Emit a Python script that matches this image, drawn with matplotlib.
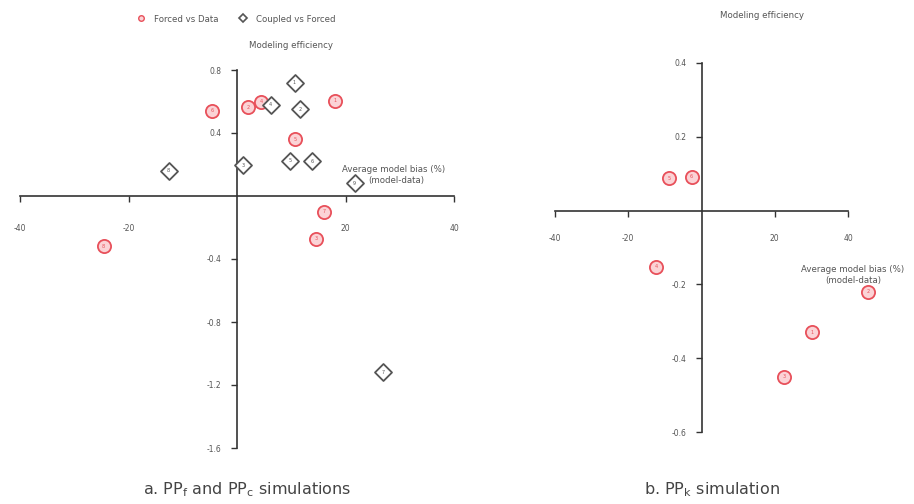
import matplotlib
matplotlib.use("Agg")
import matplotlib.pyplot as plt
from matplotlib.lines import Line2D

# ---- data ----
# Panel a: PPf / PPc simulations
forced_bias = [-4.6, 2.0, 4.4, 18.0, 10.7, 16.1, 14.6, -24.6]
forced_eff = [0.54, 0.565, 0.60, 0.605, 0.36, -0.10, -0.27, -0.32]
forced_lbl = ["6", "2", "4", "1", "5", "7", "3", "8"]

coupled_bias = [10.6, 6.2, 11.7, -12.6, 1.1, 9.8, 13.8, 21.7, 27.0]
coupled_eff = [0.72, 0.58, 0.55, 0.16, 0.195, 0.225, 0.22, 0.08, -1.12]
coupled_lbl = ["1", "4", "2", "8", "3", "5", "6", "9", "7"]

# Panel b: PPk simulation
k_bias = [-8.8, -2.7, -12.3, 45.5, 30.1, 22.5]
k_eff = [0.087, 0.092, -0.152, -0.22, -0.33, -0.45]
k_lbl = ["5", "6", "4", "2", "1", "3"]

a_xticks = [-40, -20, 20, 40]
a_yticks = [0.8, 0.4, -0.4, -0.8, -1.2, -1.6]
b_xticks = [-40, -20, 20, 40]
b_yticks = [0.4, 0.2, -0.2, -0.4, -0.6]

W, H = 914, 504
fig = plt.figure(figsize=(W / 100, H / 100), dpi=100)
plt.rcParams['font.family'] = ['DejaVu Sans']

TXT = '#555555'
RED = '#e8505a'
REDFILL = '#fbd3d6'
GREY = '#555555'


def make_axes(px0, px1, py_top, py_bot, x0pix, xscale, y0pix, yscale):
    ax = fig.add_axes([px0 / W, 1 - py_bot / H, (px1 - px0) / W, (py_bot - py_top) / H])
    ax.set_xlim((px0 - x0pix) / xscale, (px1 - x0pix) / xscale)
    ax.set_ylim((y0pix - py_bot) / yscale, (y0pix - py_top) / yscale)
    ax.patch.set_alpha(0)
    for s in ['top', 'right']:
        ax.spines[s].set_visible(False)
    ax.spines['left'].set_position(('data', 0))
    ax.spines['bottom'].set_position(('data', 0))
    for s in ['left', 'bottom']:
        ax.spines[s].set_color('#333333')
        ax.spines[s].set_linewidth(1.2)
    return ax


def style_ticks(ax, xt, yt, xpad, ypad):
    ax.set_xticks(xt)
    ax.set_yticks(yt)
    ax.set_xticklabels([f"{v:g}" for v in xt])
    ax.set_yticklabels([f"{v:g}" for v in yt])
    ax.tick_params(axis='x', direction='out', length=4, width=1, colors='#333333',
                   labelcolor=TXT, labelsize=5.5, pad=xpad)
    ax.tick_params(axis='y', direction='out', length=4, width=1, colors='#333333',
                   labelcolor=TXT, labelsize=5.5, pad=ypad)
    ax.spines['bottom'].set_bounds(xt[0], xt[-1])
    ax.spines['left'].set_bounds(min(yt), max(yt))


def draw_circles(ax, xs, ys, labels):
    ax.scatter(xs, ys, s=90, marker='o', facecolor=REDFILL, edgecolor=RED,
               linewidths=1.3, zorder=3, clip_on=False)
    for x, y, t in zip(xs, ys, labels):
        ax.text(x, y, t, fontsize=3.5, color=RED, ha='center', va='center', zorder=4)


def draw_diamonds(ax, xs, ys, labels):
    ax.scatter(xs, ys, s=75, marker='D', facecolor='white', edgecolor=GREY,
               linewidths=1.3, zorder=3, clip_on=False)
    for x, y, t in zip(xs, ys, labels):
        ax.text(x, y, t, fontsize=3.5, color=GREY, ha='center', va='center', zorder=4)


# Panel a
axa = make_axes(10, 465, 40, 460, 237, 5.425, 196, 157.5)
style_ticks(axa, a_xticks, a_yticks, xpad=16, ypad=7)
draw_circles(axa, forced_bias, forced_eff, forced_lbl)
draw_diamonds(axa, coupled_bias, coupled_eff, coupled_lbl)

# Panel b
axb = make_axes(520, 905, 30, 460, 701.5, 3.6625, 210.6, 369)
style_ticks(axb, b_xticks, b_yticks, xpad=13, ypad=7)
draw_circles(axb, k_bias, k_eff, k_lbl)


def ftext(px, py, s, **kw):
    fig.text(px / W, 1 - py / H, s, **kw)


ftext(291, 46, "Modeling efficiency", fontsize=6.2, color=TXT, ha='center', va='center')
ftext(762, 16, "Modeling efficiency", fontsize=6.2, color=TXT, ha='center', va='center')
ftext(394, 170, "Average model bias (%)", fontsize=6.2, color=TXT, ha='center', va='center')
ftext(396, 181, "(model-data)", fontsize=6.2, color=TXT, ha='center', va='center')
ftext(853, 270, "Average model bias (%)", fontsize=6.2, color=TXT, ha='center', va='center')
ftext(853, 281, "(model-data)", fontsize=6.2, color=TXT, ha='center', va='center')

# Legend
handles = [
    Line2D([], [], marker='o', linestyle='none', markersize=4, markerfacecolor=REDFILL,
           markeredgecolor=RED, markeredgewidth=1),
    Line2D([], [], marker='D', linestyle='none', markersize=4, markerfacecolor='white',
           markeredgecolor=GREY, markeredgewidth=1.2),
]
fig.legend(handles, ["Forced vs Data", "Coupled vs Forced"], loc='center',
           bbox_to_anchor=(234 / W, 1 - 19 / H), ncol=2, frameon=False,
           fontsize=6.2, labelcolor=TXT, handletextpad=0.5, columnspacing=1.8)

# Captions
ftext(247, 490, r"a. PP$_\mathrm{f}$ and PP$_\mathrm{c}$ simulations", fontsize=11.5,
      color='#444444', ha='center', va='center')
ftext(712, 490, r"b. PP$_\mathrm{k}$ simulation", fontsize=11.5, color='#444444',
      ha='center', va='center')

fig.savefig("out.png", dpi=100)
